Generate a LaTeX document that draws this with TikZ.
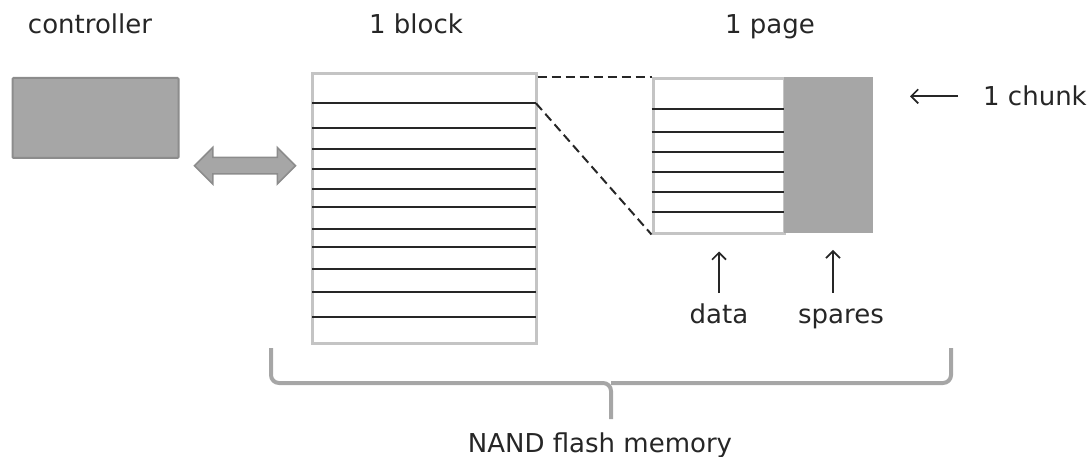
\documentclass[tikz,border=0pt]{standalone}
\usepackage{fontspec}
\setmainfont{DejaVu Sans}
\usetikzlibrary{positioning, arrows.meta, calc, shapes.arrows}
\definecolor{boxgray}{HTML}{A6A6A6}
\definecolor{edgegray}{HTML}{8C8C8C}
\definecolor{framegray}{HTML}{C4C4C4}
\definecolor{inkdark}{HTML}{262626}
\tikzset{
  lbl/.style={inner sep=0pt, anchor=base, text=inkdark},
  frame/.style={draw=framegray, line width=3pt, inner sep=0pt},
  rowline/.style={draw=inkdark, line width=2pt},
  ptr/.style={draw=inkdark, line width=1.7pt, -{Straight Barb[length=7pt, width=14pt, line width=1.7pt]}},
}
\begin{document}
\begin{tikzpicture}[x=1pt, y=-1pt, font=\fontsize{26}{30}\selectfont]
\useasboundingbox (0,0) rectangle (1091,457);

% controller
\node[fill=boxgray, draw=edgegray, line width=2pt, rounded corners=1pt,
      minimum width=166pt, minimum height=80pt, inner sep=0pt] (ctrl) at (95.5,118) {};
\node[lbl] (lblctrl) at (90,34) {controller};

% block
\node[frame, minimum width=224pt, minimum height=269pt] (block) at (424,208.5) {};
\node[lbl] (lblblock) at (416,34) {1 block};
\foreach \y [count=\i] in {103.3,127.7,149.3,169,189,207.3,229.3,247.3,269,291.7,317.3}
  \draw[rowline] (312,\y) coordinate (bl\i-w) -- (536,\y) coordinate (bl\i-e);

% Double arrow
\node[double arrow, double arrow head extend=10pt, fill=boxgray, draw=edgegray,
      line width=1.5pt, minimum height=101pt, minimum width=35pt, inner sep=7.5pt]
  (link) at ($(ctrl.east)!0.5!(block.west)+(0,2.5)$) {};

% 1 page
\node[frame, minimum width=131pt, minimum height=154pt] (data) at (718.5,156) {};
\node[fill=boxgray, inner sep=0pt, minimum width=88.5pt, minimum height=156pt,
      anchor=north west] (spares) at ($(data.north east)+(-1.5,-1)$) {};
\foreach \y in {109.3,132.3,152.3,172.3,191.7,211.7}
  \draw[rowline] (data.west |- 0,\y) -- (spares.west |- 0,\y);
\node[lbl] (lblpage) at (770,34) {1 page};

% zoom lines
\draw[inkdark, line width=2pt, dash pattern=on 9pt off 5pt] (block.east |- data.north) -- (data.north west);
\draw[inkdark, line width=2pt, dash pattern=on 9pt off 5pt] (bl1-e) -- (data.south west);

% Labels
\node[lbl, anchor=base west] (lblchunk) at (983,106) {1 chunk};
\draw[ptr] ($(lblchunk.west)+(-25,0)$) -- ++(-48,0);
\node[lbl] (lbldata) at (719,323) {data};
\node[lbl] (lblspares) at (841,323) {spares};
\draw[ptr, shorten <=10pt, shorten >=17pt] (lbldata.north) -- (lbldata.north |- data.south);
\draw[ptr] ($(spares.south)+(4.5,60)$) -- ($(spares.south)+(4.5,17)$);

% NAND brace
\draw[boxgray, line width=4pt, rounded corners=8pt]
  (271,348) -- (271,383) -- (611,383) -- (611,419);
\draw[boxgray, line width=4pt, rounded corners=8pt]
  (951,348) -- (951,383) -- (611,383);
\node[lbl] (lblnand) at (600,452) {NAND flash memory};
\end{tikzpicture}
\end{document}
